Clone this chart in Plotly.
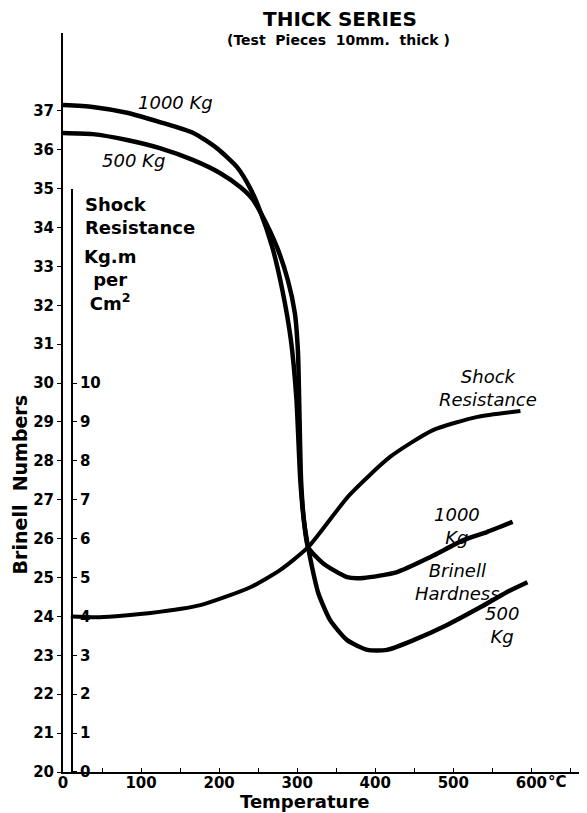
import plotly.graph_objects as go

# Brinell hardness, 1000 Kg load
TEMP_1000 = [0, 38, 82, 124, 167, 197, 223, 240, 252, 268, 281, 292, 299, 304, 309, 314,
             333, 364, 385, 428, 471, 513, 543, 576]
BRINELL_1000 = [37.15, 37.10, 36.95, 36.71, 36.43, 36.04, 35.55, 35.0, 34.45, 33.5,
                32.39, 31.1, 29.6, 27.5, 26.4, 25.78, 25.37, 25.01, 24.99, 25.14, 25.53,
                25.96, 26.17, 26.43]

# Brinell hardness, 500 Kg load
TEMP_500 = [0, 38, 82, 124, 167, 201, 227, 242, 254, 274, 288, 297, 301, 302.5, 305, 309,
            314, 319, 327, 342, 364, 390, 415, 449, 492, 535, 569, 595]
BRINELL_500 = [36.43, 36.40, 36.25, 36.04, 35.73, 35.40, 35.04, 34.75, 34.35, 33.5, 32.65,
               31.8, 30.8, 29.6, 27.5, 26.4, 25.78, 25.27, 24.6, 23.91, 23.39, 23.14,
               23.14, 23.39, 23.78, 24.24, 24.63, 24.88]

# Shock resistance (Kg.m per cm2)
TEMP_SHOCK = [10, 47, 112, 176, 240, 278, 314, 366, 419, 474, 531, 586]
SHOCK = [4.0, 3.98, 4.09, 4.29, 4.75, 5.19, 5.78, 7.1, 8.1, 8.79, 9.13, 9.28]

BRINELL_TICKS = [20, 21, 22, 23, 24, 25, 26, 27, 28, 29, 30, 31, 32, 33, 34, 35, 36, 37]
SHOCK_TICKS = [0, 1, 2, 3, 4, 5, 6, 7, 8, 9, 10]
TEMP_TICKS = [0, 50, 100, 150, 200, 250, 300, 350, 400, 450, 500, 550, 600, 650]
TEMP_TICK_TEXT = ["0", "", "100", "", "200", "", "300", "", "400", "", "500", "", "600", ""]

FONT = "DejaVu Sans"
LINE = dict(color="black", width=4.5, shape="spline", smoothing=0.6)

fig = go.Figure()
fig.add_trace(go.Scatter(x=TEMP_1000, y=BRINELL_1000, mode="lines", line=LINE,
                         name="1000 Kg", showlegend=False))
fig.add_trace(go.Scatter(x=TEMP_500, y=BRINELL_500, mode="lines", line=LINE,
                         name="500 Kg", showlegend=False))
fig.add_trace(go.Scatter(x=TEMP_SHOCK, y=SHOCK, mode="lines", yaxis="y2",
                         line=dict(color="black", width=4, shape="spline", smoothing=0.6),
                         name="Shock Resistance", showlegend=False))

tick_font = dict(family=FONT, size=15, color="black", weight="bold")
fig.update_layout(
    width=579,
    height=805,
    margin=dict(l=55, r=1, t=25, b=41),
    paper_bgcolor="white",
    plot_bgcolor="rgba(0,0,0,0)",
    xaxis=dict(range=[0, 670], tickvals=TEMP_TICKS, ticktext=TEMP_TICK_TEXT,
               showline=True, linecolor="black", linewidth=2, showgrid=False,
               zeroline=False, ticks="inside", ticklen=4, tickcolor="black",
               ticklabelstandoff=-4, tickfont=tick_font),
    yaxis=dict(range=[20, 39], tickvals=BRINELL_TICKS, showline=True,
               linecolor="black", linewidth=2, showgrid=False, zeroline=False,
               ticks="outside", ticklen=4, tickcolor="black", tickfont=tick_font),
    yaxis2=dict(range=[0, 15], domain=[0, 15 / 19], anchor="free", position=0.017,
                side="right", tickvals=SHOCK_TICKS, showline=True, linecolor="black",
                linewidth=2, showgrid=False, zeroline=False, ticks="outside",
                ticklen=4, tickcolor="black", tickfont=tick_font),
)

ann = []
# titles
ann.append(dict(text="THICK SERIES", x=355, y=1.019, xref="x", yref="paper",
                font=dict(family=FONT, size=20, weight="bold")))
ann.append(dict(text="(Test  Pieces  10mm.  thick )", x=353, y=0.991, xref="x", yref="paper",
                font=dict(family=FONT, size=14, weight="bold")))
ann.append(dict(text="Temperature", x=309, y=-0.04, xref="x", yref="paper",
                font=dict(family=FONT, size=18, weight="bold")))
ann.append(dict(text="Brinell  Numbers", x=-0.082, y=0.388, xref="paper", yref="paper",
                textangle=-90, font=dict(family=FONT, size=19, weight="bold")))
ann.append(dict(text="°C", x=634, y=-0.0135, xref="x", yref="paper",
                font=dict(family=FONT, size=15, weight="bold")))
# shock axis title
ann.append(dict(text="Shock<br>Resistance", x=25, y=34.29, xanchor="left", align="left",
                font=dict(family=FONT, size=18, weight="bold")))
ann.append(dict(text="Kg.m<br>per<br>Cm<sup>2</sup>", x=60, y=32.65, align="center",
                font=dict(family=FONT, size=18, weight="bold")))
# curve labels
ann.append(dict(text="1000 Kg", x=144, y=37.22))
ann.append(dict(text="500 Kg", x=90, y=35.73))
ann.append(dict(text="Shock<br>Resistance", x=544, y=29.87))
ann.append(dict(text="1000<br>Kg", x=505, y=26.32))
ann.append(dict(text="Brinell<br>Hardness", x=506, y=24.88))
ann.append(dict(text="500<br>Kg", x=562, y=23.78))

for a in ann:
    a.setdefault("showarrow", False)
    a.setdefault("xanchor", "center")
    a.setdefault("yanchor", "middle")
    a.setdefault("font", dict(family=FONT, size=18, style="italic"))
    a["font"].setdefault("color", "black")
fig.update_layout(annotations=ann)

fig.write_html("out.html")
